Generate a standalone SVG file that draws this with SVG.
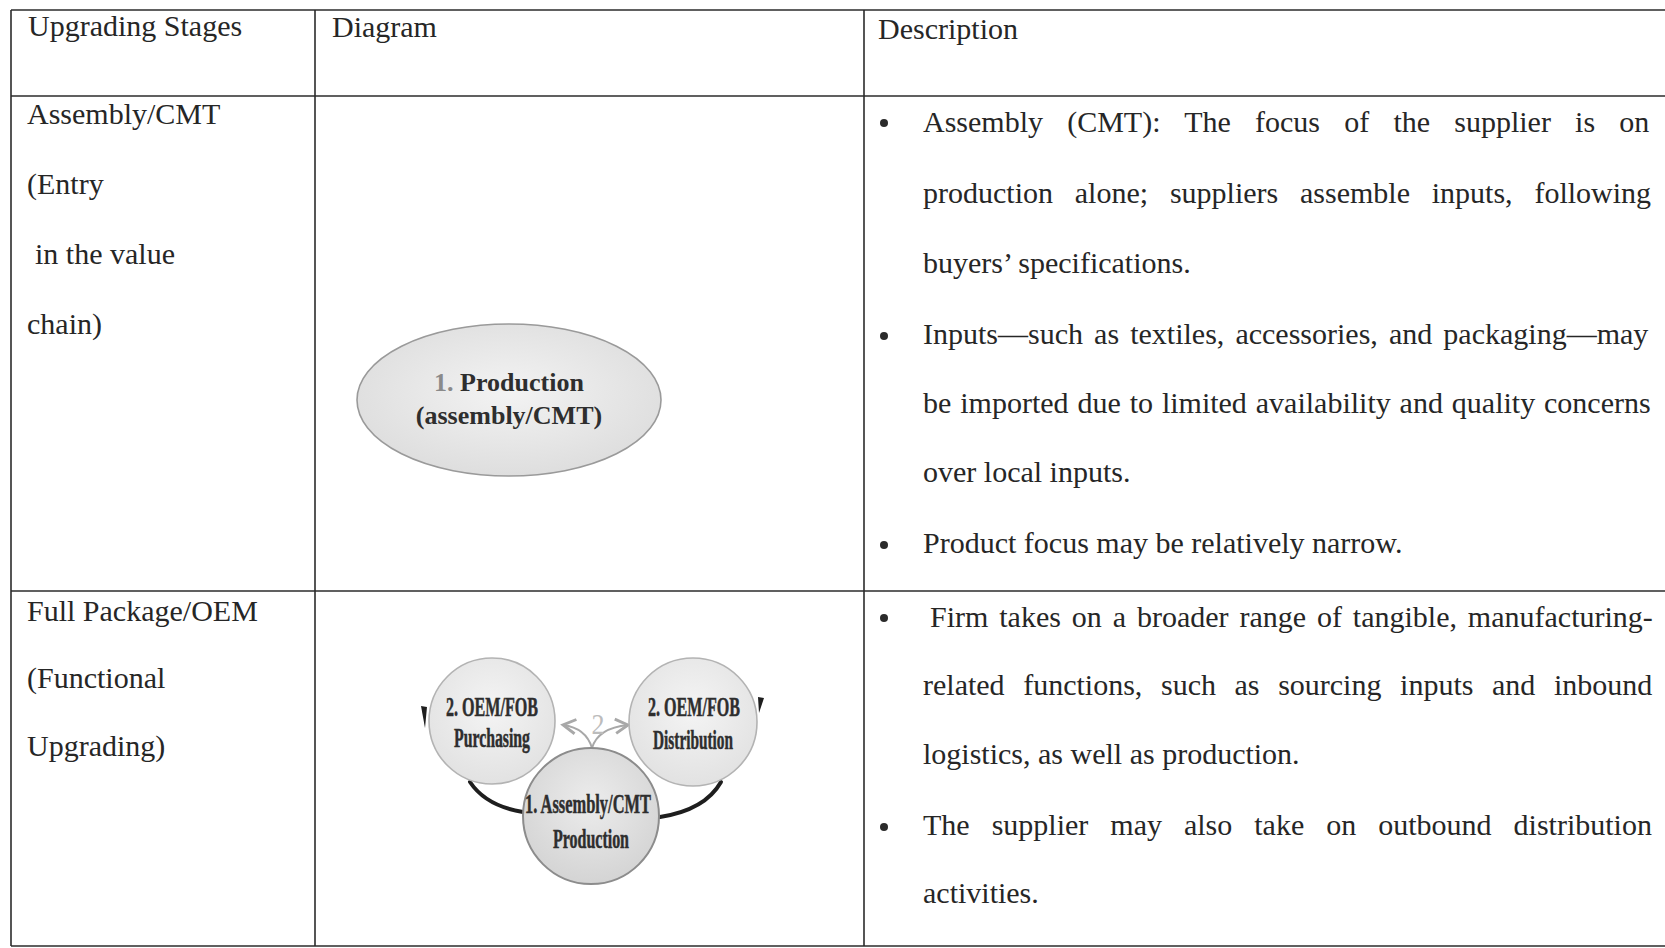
<svg xmlns="http://www.w3.org/2000/svg" width="1665" height="948" viewBox="0 0 1665 948">
  <style>
    .cell { font-family: "Liberation Serif", "Times New Roman", serif; font-size: 30px; fill: #262626; }
    .rule { stroke: #2b2b2b; stroke-width: 1.6; fill: none; }
    .bullet { fill: #2b2b2b; }
    .node-label { font-family: "Liberation Serif", "Times New Roman", serif; font-weight: bold; fill: #2e2e2e; text-anchor: middle; }
    .cond { font-size: 27px; stroke: #2e2e2e; stroke-width: 0.5; }
    .soft { stroke: #a8a8a8; stroke-width: 2; fill: none; }
    .loop { stroke: #1e1e1e; fill: none; stroke-linecap: round; }
  </style>
  <defs>
    <radialGradient id="ovalFill" cx="50%" cy="45%" r="60%">
      <stop offset="0" stop-color="#f3f3f3"/>
      <stop offset="1" stop-color="#dcdcdc"/>
    </radialGradient>
    <radialGradient id="ringFill" cx="50%" cy="40%" r="60%">
      <stop offset="0" stop-color="#f4f4f4"/>
      <stop offset="1" stop-color="#e2e2e2"/>
    </radialGradient>
    <radialGradient id="coreFill" cx="50%" cy="40%" r="60%">
      <stop offset="0" stop-color="#ececec"/>
      <stop offset="1" stop-color="#d4d4d4"/>
    </radialGradient>
    <marker id="chevron" viewBox="0 0 10 10" refX="8" refY="5" markerWidth="9" markerHeight="9" orient="auto">
      <path d="M1,1 L8,5 L1,9" fill="none" stroke="#a8a8a8" stroke-width="1.6"/>
    </marker>
  </defs>

  <rect width="1665" height="948" fill="#ffffff"/>

  <!-- table grid -->
  <g id="grid">
    <line class="rule" x1="11" y1="10" x2="1665" y2="10" stroke-width="2"/>
    <line class="rule" x1="11" y1="96" x2="1665" y2="96" stroke-width="2"/>
    <line class="rule" x1="11" y1="591" x2="1665" y2="591" stroke-width="2"/>
    <line class="rule" x1="11" y1="946" x2="1665" y2="946" stroke-width="2"/>
    <line class="rule" x1="11" y1="10" x2="11" y2="946"/>
    <line class="rule" x1="315" y1="10" x2="315" y2="946"/>
    <line class="rule" x1="864" y1="10" x2="864" y2="946"/>
  </g>

  <!-- header row -->
  <g id="header">
    <text class="cell" x="28" y="36">Upgrading Stages</text>
    <text class="cell" x="332" y="37">Diagram</text>
    <text class="cell" x="878" y="39">Description</text>
  </g>

  <!-- row 1: stage name -->
  <g id="stage-cmt">
    <text class="cell" x="27" y="124">Assembly/CMT</text>
    <text class="cell" x="27" y="194">(Entry</text>
    <text class="cell" x="35" y="264">in the value</text>
    <text class="cell" x="27" y="334">chain)</text>
  </g>

  <!-- row 1: single production oval -->
  <g id="node-production">
    <ellipse cx="509" cy="400" rx="152" ry="76" fill="url(#ovalFill)" stroke="#9a9a9a" stroke-width="1.6"/>
    <text class="node-label" x="509" y="391" font-size="26"><tspan fill="#8a8a8a">1.</tspan> Production</text>
    <text class="node-label" x="509" y="424" font-size="26">(assembly/CMT)</text>
  </g>

  <!-- row 1: description -->
  <g id="desc-cmt">
    <circle class="bullet" cx="884" cy="123" r="4"/>
    <text class="cell" x="923" y="132" word-spacing="16.7">Assembly (CMT): The focus of the supplier is on</text>
    <text class="cell" x="923" y="203" word-spacing="14.3">production alone; suppliers assemble inputs, following</text>
    <text class="cell" x="923" y="273">buyers’ specifications.</text>
    <circle class="bullet" cx="884" cy="336" r="4"/>
    <text class="cell" x="923" y="344" word-spacing="3.6">Inputs—such as textiles, accessories, and packaging—may</text>
    <text class="cell" x="923" y="413" word-spacing="1.4">be imported due to limited availability and quality concerns</text>
    <text class="cell" x="923" y="482">over local inputs.</text>
    <circle class="bullet" cx="884" cy="545" r="4"/>
    <text class="cell" x="923" y="553">Product focus may be relatively narrow.</text>
  </g>

  <!-- row 2: stage name -->
  <g id="stage-oem">
    <text class="cell" x="27" y="621">Full Package/OEM</text>
    <text class="cell" x="27" y="688">(Functional</text>
    <text class="cell" x="27" y="756">Upgrading)</text>
  </g>

  <!-- row 2: connectors between the three functions -->
  <g id="connectors">
    <path class="soft" d="M592,748 Q586,728 563,725" marker-end="url(#chevron)"/>
    <path class="soft" d="M592,748 Q598,728 628,725" marker-end="url(#chevron)"/>
    <path class="loop" d="M470,782 Q486,806 523,812" stroke-width="4"/>
    <path class="loop" d="M660,817 Q705,810 721,782" stroke-width="4"/>
    <path d="M421,706 L427,707 L425,728 Z" fill="#1e1e1e"/>
    <path d="M758,697 L764,698 L759,713 Z" fill="#1e1e1e"/>
  </g>

  <!-- row 2: purchasing -->
  <g id="node-purchasing">
    <circle cx="492" cy="721" r="63" fill="url(#ringFill)" stroke="#b3b3b3" stroke-width="1.6"/>
    <text class="node-label cond" x="492" y="716" textLength="92" lengthAdjust="spacingAndGlyphs">2. OEM/FOB</text>
    <text class="node-label cond" x="492" y="747" textLength="76" lengthAdjust="spacingAndGlyphs">Purchasing</text>
  </g>

  <!-- row 2: distribution -->
  <g id="node-distribution">
    <circle cx="693" cy="722" r="64" fill="url(#ringFill)" stroke="#b3b3b3" stroke-width="1.6"/>
    <text class="node-label cond" x="694" y="716" textLength="92" lengthAdjust="spacingAndGlyphs">2. OEM/FOB</text>
    <text class="node-label cond" x="693" y="749" textLength="80" lengthAdjust="spacingAndGlyphs">Distribution</text>
  </g>

  <!-- row 2: assembly / production -->
  <g id="node-assembly">
    <circle cx="591" cy="816" r="68" fill="url(#coreFill)" stroke="#8c8c8c" stroke-width="2"/>
    <text class="node-label cond" x="588" y="813" textLength="126" lengthAdjust="spacingAndGlyphs">1. Assembly/CMT</text>
    <text class="node-label cond" x="591" y="848" textLength="76" lengthAdjust="spacingAndGlyphs">Production</text>
  </g>

  <!-- upgrade step marker -->
  <text x="598" y="734" font-family="Liberation Serif, serif" font-size="30" fill="#bcbcbc" text-anchor="middle" textLength="13" lengthAdjust="spacingAndGlyphs">2</text>

  <!-- row 2: description -->
  <g id="desc-oem">
    <circle class="bullet" cx="884" cy="618" r="4"/>
    <text class="cell" x="930" y="627" word-spacing="3.4">Firm takes on a broader range of tangible, manufacturing-</text>
    <text class="cell" x="923" y="695" word-spacing="11.1">related functions, such as sourcing inputs and inbound</text>
    <text class="cell" x="923" y="764">logistics, as well as production.</text>
    <circle class="bullet" cx="884" cy="827" r="4"/>
    <text class="cell" x="923" y="835" word-spacing="14.5">The supplier may also take on outbound distribution</text>
    <text class="cell" x="923" y="903">activities.</text>
  </g>
</svg>
